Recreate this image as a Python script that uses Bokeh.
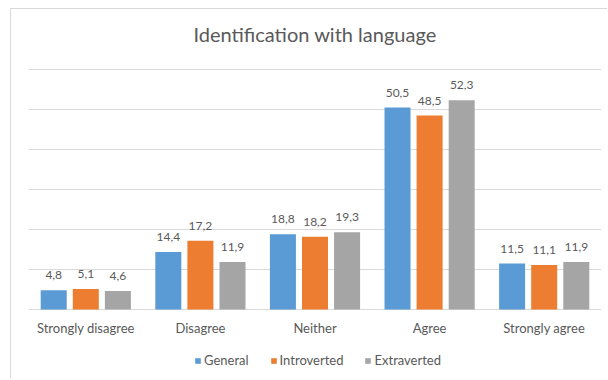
from bokeh.plotting import figure
from bokeh.models import ColumnDataSource, FixedTicker, LabelSet, Label, Legend, LegendItem, Range1d
from bokeh.core.properties import value
from bokeh.transform import dodge
from bokeh.embed import file_html
from bokeh.resources import INLINE

# Survey answers, share of respondents (%)
categories = ["Strongly disagree", "Disagree", "Neither", "Agree", "Strongly agree"]
general = [4.8, 14.4, 18.8, 50.5, 11.5]
introverted = [5.1, 17.2, 18.2, 48.5, 11.1]
extraverted = [4.6, 11.9, 19.3, 52.3, 11.9]

series_names = ["General", "Introverted", "Extraverted"]
series_values = [general, introverted, extraverted]
grid_ticks = [0, 10, 20, 30, 40, 50, 60]
colors = ["#5B9BD5", "#ED7D31", "#A5A5A5"]
offsets = [-0.28, 0.0, 0.28]
bar_width = 0.227
title_text = "Identification with language"

FONT = "Lato"
TEXT_COLOR = "#595959"
GRID_COLOR = "#D9D9D9"

# The frame spans the whole canvas height: heading above the 60 line,
# category names and legend below the zero line, all drawn inside it.
p = figure(
    x_range=categories,
    y_range=Range1d(-17.5, 75),
    width=597,
    height=370,
    output_backend="svg",
    toolbar_location=None,
    min_border_left=17,
    min_border_right=7,
    min_border_top=0,
    min_border_bottom=0,
)
p.margin = (8, 0, 0, 10)
p.styles = {"border-top": "1px solid #D9D9D9", "border-left": "1px solid #D9D9D9"}

p.outline_line_color = None
p.background_fill_color = "white"
p.border_fill_color = "white"
p.x_range.range_padding = 0

p.xaxis.visible = False
p.yaxis.visible = False
p.xgrid.grid_line_color = None
p.ygrid.ticker = FixedTicker(ticks=grid_ticks)
p.ygrid.grid_line_color = GRID_COLOR
p.ygrid.grid_line_width = 1

# Heading, centred over the five categories
p.add_layout(Label(
    x=len(categories) / 2, y=68.9, text=title_text,
    text_align="center", text_baseline="alphabetic",
    text_font=FONT, text_font_size="20px", text_color=TEXT_COLOR,
))

# Category names under the zero line
cat_src = ColumnDataSource(dict(cat=categories, base=[0] * len(categories)))
p.add_layout(LabelSet(
    x="cat", y="base", text="cat", source=cat_src,
    text_align="center", text_baseline="alphabetic", y_offset=-23,
    text_font=value(FONT), text_font_size=value("13px"), text_color=TEXT_COLOR,
))

items = []
for name, vals, color, off in zip(series_names, series_values, colors, offsets):
    src = ColumnDataSource(dict(
        cat=categories,
        val=vals,
        lbl=[f"{v:.1f}".replace(".", ",") for v in vals],
    ))
    xs = dodge("cat", off, range=p.x_range)
    r = p.vbar(x=xs, top="val", width=bar_width, source=src,
               fill_color=color, line_color=None)
    p.add_layout(LabelSet(
        x=xs, y="val", text="lbl", source=src,
        text_align="center", text_baseline="alphabetic", y_offset=11,
        text_font=value(FONT), text_font_size=value("12px"), text_color=TEXT_COLOR,
    ))
    items.append(LegendItem(label=name, renderers=[r]))

legend = Legend(
    items=items,
    orientation="horizontal",
    location=(166, 11),
    glyph_width=7,
    glyph_height=7,
    label_height=14,
    label_standoff=3,
    spacing=21,
    padding=0,
    margin=0,
    border_line_color=None,
    background_fill_alpha=0,
    label_text_font=FONT,
    label_text_font_size="13px",
    label_text_color=TEXT_COLOR,
)
p.add_layout(legend, "center")

open("out.html", "w").write(file_html(p, INLINE))
